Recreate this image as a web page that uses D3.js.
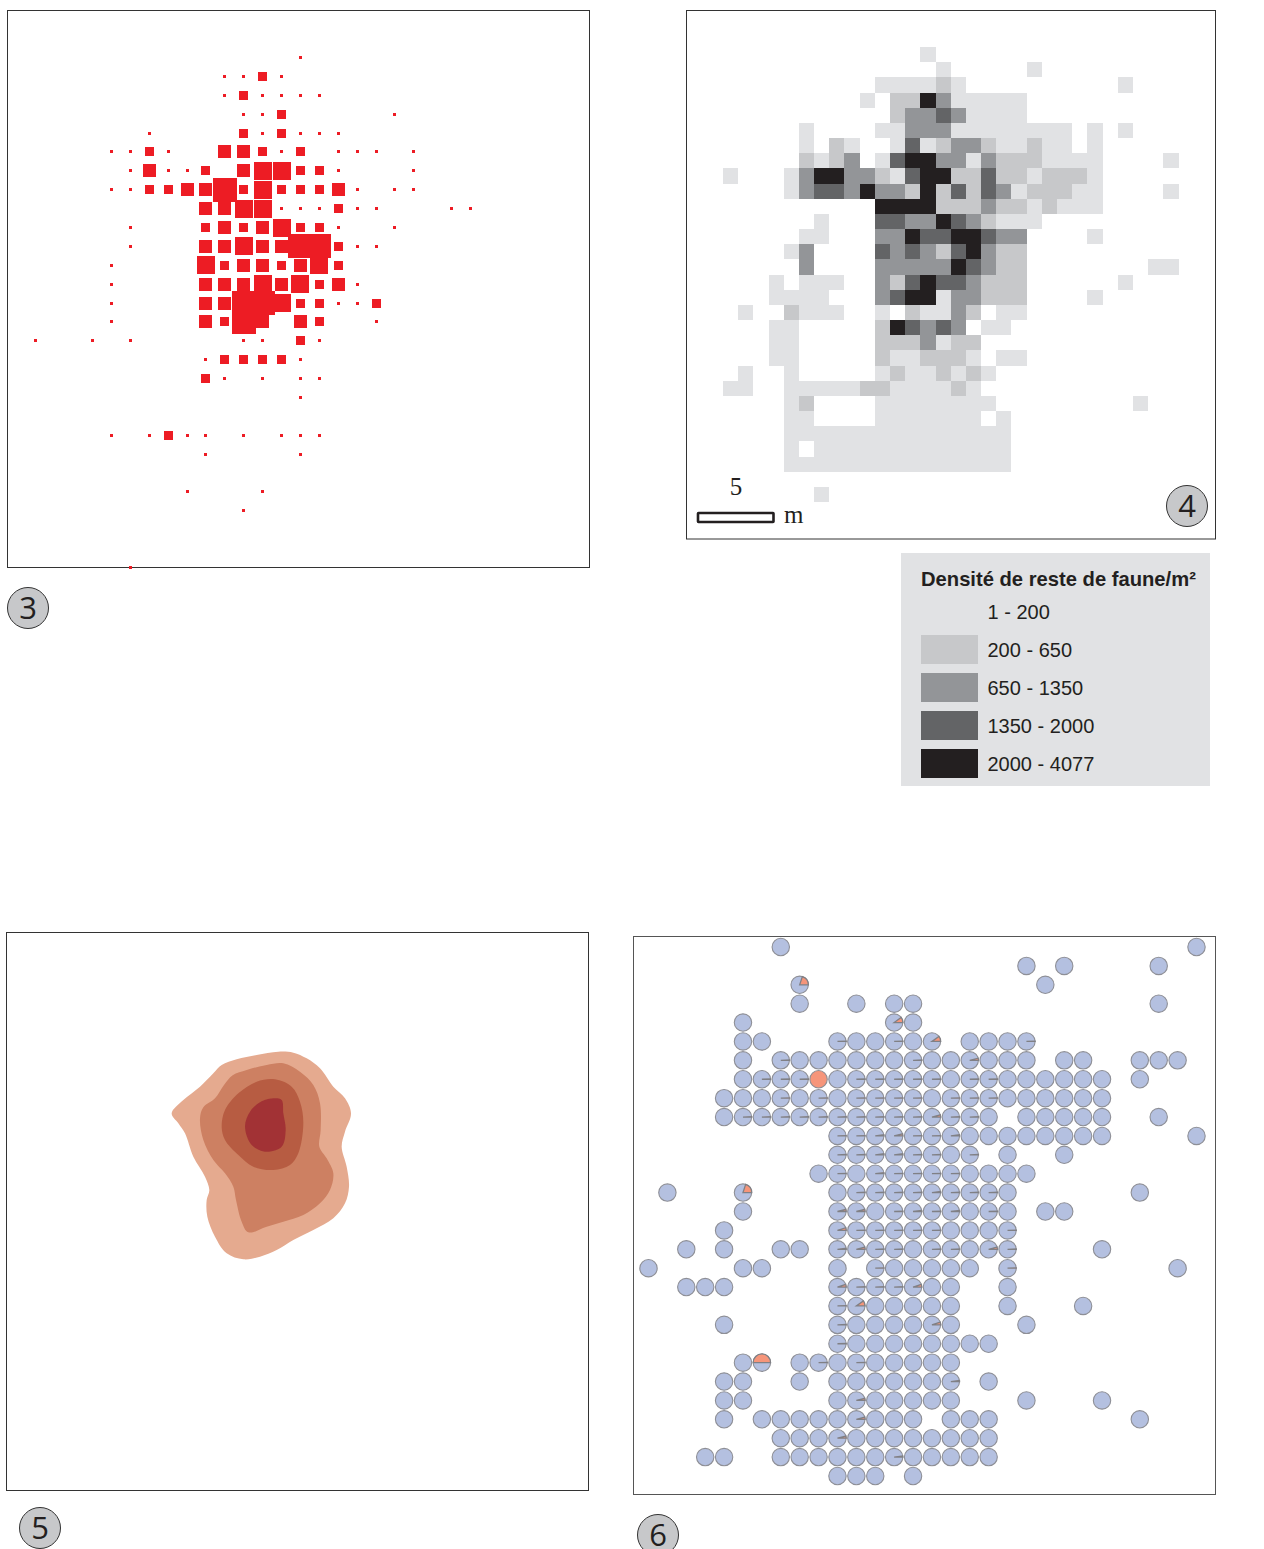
<!DOCTYPE html>
<html><head><meta charset="utf-8">
<script src="https://cdn.jsdelivr.net/npm/d3@7"></script>
<style>html,body{margin:0;padding:0;background:#fff;overflow:hidden}svg{display:block}</style>
</head><body>
<svg id="c" width="1264" height="1549"></svg>
<script>
// Panel 3: [row, [col, class] ...]
const squareRows = [
 [0,[[10,1]]],
 [1,[[6,1],[7,1],[8,2],[9,1]]],
 [2,[[6,1],[7,2],[8,1],[9,1],[10,1],[11,1]]],
 [3,[[7,1],[8,1],[9,2],[15,1]]],
 [4,[[2,1],[7,2],[8,1],[9,2],[10,1],[11,1],[12,1]]],
 [5,[[0,1],[1,1],[2,2],[3,1],[6,3],[7,3],[8,2],[9,1],[10,2],[12,1],[13,1],[14,1],[16,1]]],
 [6,[[1,1],[2,3],[3,1],[4,1],[5,2],[7,3],[8,4],[9,4],[10,2],[11,2],[12,1],[16,1]]],
 [7,[[0,1],[1,1],[2,2],[3,2],[4,3],[5,3],[6,5],[7,2],[8,4],[9,2],[10,2],[11,2],[12,3],[13,1],[15,1],[16,1]]],
 [8,[[5,3],[6,3],[7,4],[8,4],[9,1],[10,1],[11,1],[12,2],[13,1],[14,1],[18,1],[19,1]]],
 [9,[[1,1],[5,2],[6,3],[7,2],[8,3],[9,4],[10,2],[11,2],[12,1],[15,1]]],
 [10,[[1,1],[5,3],[6,3],[7,4],[8,3],[9,3],[10,5],[11,5],[12,2],[13,1],[14,1]]],
 [11,[[0,1],[5,4],[6,2],[7,3],[8,3],[9,2],[10,3],[11,4],[12,2]]],
 [12,[[0,1],[5,3],[6,3],[7,3],[8,4],[9,3],[10,4],[11,2],[12,3],[13,1]]],
 [13,[[0,1],[5,3],[6,3],[7,5],[8,5],[9,4],[10,2],[11,2],[12,1],[13,1],[14,2]]],
 [14,[[0,1],[5,3],[6,2],[7,5],[8,3],[10,3],[11,2],[14,1]]],
 [15,[[-4,1],[-1,1],[1,1],[7,1],[8,1],[10,2],[11,1]]],
 [16,[[5,1],[6,2],[7,2],[8,2],[9,2],[10,1]]],
 [17,[[5,2],[6,1],[8,1],[10,1],[11,1]]],
 [18,[[10,1]]],
 [20,[[0,1],[2,1],[3,2],[4,1],[5,1],[7,1],[9,1],[10,1],[11,1]]],
 [21,[[5,1],[10,1]]],
 [23,[[4,1],[8,1]]],
 [24,[[7,1]]],
 [27,[[1,1]]]
];
const squareClasses = [1,2,3,4,5];

// Panel 4: density class per grid cell, [row, [firstCol, classes] ...]
const densityRows = [
 [0,[[13,"1"]]],
 [1,[[14,"1"],[20,"1"]]],
 [2,[[10,"111121"],[26,"1"]]],
 [3,[[9,"1"],[11,"225311111"]]],
 [4,[[11,"233431111"]]],
 [5,[[5,"1"],[10,"1133311111111"],[24,"1"],[26,"1"]]],
 [6,[[5,"1"],[7,"21"],[11,"141233211211"],[24,"1"]]],
 [7,[[5,"2123"],[10,"145533132221111"],[29,"1"]]],
 [8,[[0,"1"],[4,"135533214552242212221"]]],
 [9,[[4,"134435332524243122211"],[29,"1"]]],
 [10,[[10,"555522232212111"]]],
 [11,[[6,"1"],[10,"44335432111"]]],
 [12,[[5,"11"],[10,"3354455433"],[24,"1"]]],
 [13,[[4,"13"],[10,"4343245322"]]],
 [14,[[5,"3"],[10,"3333354322"],[28,"11"]]],
 [15,[[3,"1"],[5,"111"],[10,"3245443222"],[26,"1"]]],
 [16,[[3,"1111"],[10,"3455133222"],[24,"1"]]],
 [17,[[1,"1"],[4,"2111"],[10,"1"],[12,"21132"],[18,"11"]]],
 [18,[[3,"11"],[10,"254343"],[17,"11"]]],
 [19,[[3,"11"],[10,"2223122"]]],
 [20,[[3,"11"],[10,"2112221"],[18,"11"]]],
 [21,[[1,"1"],[4,"1"],[10,"12112121"]]],
 [22,[[0,"11"],[4,"11111"],[9,"22"],[11,"1111"],[15,"21"]]],
 [23,[[4,"12"],[10,"11111111"],[27,"1"]]],
 [24,[[4,"11"],[10,"1111111"],[18,"1"]]],
 [25,[[4,"111111111111111"]]],
 [26,[[4,"1"],[6,"1111111111111"]]],
 [27,[[4,"111111111111111"]]],
 [29,[[6,"1"]]]
];
const legendTitle = "Densité de reste de faune/m²";
const legendLabels = ["1 - 200","200 - 650","650 - 1350","1350 - 2000","2000 - 4077"];
const greys = ["#e1e2e4","#c7c8ca","#939598","#636466","#231f20"];

// Panel 5: contour outlines, outermost first
const contourOuter = [[65,250],[100,210],[150,170],[190,130],[215,105],[260,88],[320,75],[385,65],[430,68],[470,85],[510,115],[550,170],[585,205],[603,250],[585,305],[575,350],[590,410],[597,470],[585,520],[550,565],[490,600],[430,630],[380,660],[330,680],[280,688],[230,670],[195,620],[172,560],[170,510],[178,480],[165,440],[130,380],[105,310],[85,280]];
const contourSecond = [[150,265],[160,232],[195,205],[222,165],[248,136],[290,120],[350,105],[400,100],[450,125],[490,165],[510,220],[512,300],[508,350],[530,385],[550,430],[540,480],[510,520],[460,555],[400,575],[350,590],[295,607],[275,575],[258,510],[250,470],[225,430],[190,390],[160,330]];
const contourThird = [[215,290],[225,240],[265,190],[320,155],[375,148],[425,170],[450,215],[460,280],[445,370],[420,405],[370,420],[310,410],[265,375],[225,330]];
const contourCore = [[285,290],[300,245],[335,214],[372,205],[395,210],[400,250],[407,300],[395,350],[345,365],[305,345]];
const contourColors = ["#e5aa8f","#cd8062","#b75c42","#a23335"];

// Panel 6: samples [row, cols]; a plain number has share 0, a pair is [col, share of the second material]
const t = 0.006, s = 0.02, m = 0.04;
const sampleRows = [
 [0,[7,29]],
 [1,[20,22,27]],
 [2,[[8,.2],21]],
 [3,[8,11,13,14,27]],
 [4,[5,[13,.1],14]],
 [5,[5,6,[10,t],11,12,[13,t],14,[15,.1],17,18,19,[20,t]]],
 [6,[5,[7,t],8,9,10,11,12,13,[14,t],15,16,[17,m],18,19,20,22,23,26,27,28]],
 [7,[5,[6,t],[7,t],[8,t],[9,1],10,[11,t],[12,t],[13,t],[14,t],[15,t],16,[17,t],[18,t],19,20,21,22,23,24,26]],
 [8,[4,5,6,[7,t],8,[9,t],10,[11,t],[12,t],[13,t],[14,t],15,[16,t],[17,t],[18,t],19,20,21,22,23,24]],
 [9,[4,[5,t],[6,t],[7,t],[8,t],[9,t],[10,t],[11,t],[12,t],[13,t],[14,t],[15,m],[16,t],[17,t],18,20,21,22,23,24,27]],
 [10,[[10,t],[11,t],[12,s],[13,m],[14,t],[15,t],[16,s],17,18,19,20,21,22,23,24,29]],
 [11,[[10,t],[11,t],[12,s],[13,s],[14,t],[15,t],16,[17,t],19,22]],
 [12,[9,[10,t],11,[12,s],[13,t],[14,t],[15,t],[16,t],17,18,19,20]],
 [13,[1,[5,.2],10,[11,t],[12,t],[13,t],[14,t],[15,s],[16,t],[17,t],[18,t],19,26]],
 [14,[5,[10,m],[11,m],12,[13,t],[14,s],[15,t],[16,s],17,[18,t],19,21,22]],
 [15,[4,[10,.05],[11,t],[12,t],[13,t],[14,t],[15,t],16,17,18,[19,t]]],
 [16,[2,4,7,8,[10,s],[11,m],[12,t],[13,t],14,[15,t],[16,t],17,[18,m],[19,t],24]],
 [17,[0,5,6,10,[12,t],13,14,15,16,17,[19,t],28]],
 [18,[2,3,4,[10,.05],[11,t],[12,t],[13,t],[14,.05],15,16,19]],
 [19,[[10,t],[11,.1],12,13,14,15,16,19,23]],
 [20,[4,[10,t],11,12,13,14,[15,.05],16,20]],
 [21,[[10,t],11,12,13,14,15,16,17,18]],
 [22,[5,[6,.5],8,[9,t],10,[11,t],12,13,14,15,16]],
 [23,[4,5,8,10,11,12,13,14,15,[16,s],18]],
 [24,[4,5,10,[11,m],12,13,14,15,16,20,24]],
 [25,[4,6,7,8,9,10,[11,m],12,13,14,16,17,18,26]],
 [26,[7,8,9,[10,m],11,12,13,14,15,16,17,18]],
 [27,[3,4,7,8,9,10,11,12,[13,s],14,15,16,17,18]],
 [28,[10,11,12,14]]
];

const badges = [["3",28,608],["4",1187,506],["5",40,1528],["6",658,1535]];

const svg = d3.select("#c");
const defs = svg.append("defs");
defs.append("filter").attr("id","soft").append("feGaussianBlur").attr("stdDeviation",0.6);
function frame(x,y,w,h,col){
  svg.append("rect").attr("x",x).attr("y",y).attr("width",w).attr("height",h)
     .attr("fill","#fff").attr("stroke",col).attr("stroke-width",1);
}
frame(7.5,10.5,582,557,"#333");
frame(686.5,10.5,529,528.5,"#333");
frame(6.5,932.5,582,558,"#333");
frame(633.5,936.5,582,558,"#555");

// ---- Panel 3
const x3 = d3.scaleLinear().domain([0,19]).range([111.5,470.5]);
const y3 = d3.scaleLinear().domain([0,27]).range([57.5,567.5]);
const size3 = d3.scaleOrdinal().domain(squareClasses).range([3,9,13,18,24]);
const cells3 = squareRows.flatMap(([r,cs])=>cs.map(([c,k])=>({r,c,k})));
svg.append("g").attr("shape-rendering","crispEdges").selectAll("rect").data(cells3).join("rect")
  .attr("x",d=>Math.round(x3(d.c)-size3(d.k)/2))
  .attr("y",d=>Math.round(y3(d.r)-size3(d.k)/2))
  .attr("width",d=>size3(d.k)).attr("height",d=>size3(d.k)).attr("fill","#ed1c24");

// ---- Panel 4
const x4 = d3.scaleLinear().domain([0,30]).range([723,1178.5]);
const y4 = d3.scaleLinear().domain([0,30]).range([47,502]);
const cells4 = densityRows.flatMap(([r,segs])=>segs.flatMap(([c0,str])=>
  Array.from(str).map((ch,i)=>({r,c:c0+i,k:+ch}))));
svg.append("g").attr("shape-rendering","crispEdges").selectAll("rect").data(cells4).join("rect")
  .attr("x",d=>Math.round(x4(d.c))).attr("y",d=>Math.round(y4(d.r)))
  .attr("width",d=>Math.round(x4(d.c+1))-Math.round(x4(d.c)))
  .attr("height",d=>Math.round(y4(d.r+1))-Math.round(y4(d.r)))
  .attr("fill",d=>greys[d.k-1]);

// scale bar
svg.append("rect").attr("x",698).attr("y",513).attr("width",75.5).attr("height",9)
  .attr("fill","#fff").attr("stroke","#231f20").attr("stroke-width",2.6).attr("rx",0.5);
const serif = "'Liberation Serif',serif";
svg.append("text").attr("x",736).attr("y",495).attr("text-anchor","middle").attr("font-family",serif)
  .attr("font-size",25).attr("fill","#231f20").text("5");
svg.append("text").attr("x",784).attr("y",523).attr("font-family",serif)
  .attr("font-size",25).attr("fill","#231f20").text("m");

// ---- Legend
const sans = "'Liberation Sans',Arial,sans-serif";
svg.append("rect").attr("x",901).attr("y",553).attr("width",309).attr("height",233).attr("fill",greys[0]);
svg.append("text").attr("x",921).attr("y",586).attr("font-family",sans).attr("font-weight","bold")
  .attr("font-size",20.2).attr("fill","#231f20").text(legendTitle);
const yLeg = d3.scalePoint().domain(legendLabels).range([612,764]);
const leg = svg.append("g").selectAll("g").data(legendLabels).join("g");
leg.append("rect").attr("x",921).attr("y",d=>yLeg(d)-15).attr("width",57).attr("height",29)
   .attr("fill",(d,i)=>greys[i]);
leg.append("text").attr("x",987.5).attr("y",d=>yLeg(d)+7).attr("font-family",sans).attr("font-size",20)
   .attr("fill","#231f20").text(d=>d);

// ---- Panel 5
const x5 = d3.scaleLinear().domain([0,660]).range([150,370]);
const y5 = d3.scaleLinear().domain([0,720]).range([1030,1270]);
const contourLine = d3.line().x(d=>x5(d[0])).y(d=>y5(d[1])).curve(d3.curveCatmullRomClosed.alpha(0.5));
svg.append("g").attr("filter","url(#soft)").selectAll("path").data([contourOuter,contourSecond,contourThird,contourCore]).join("path")
  .attr("d",contourLine).attr("fill",(d,i)=>contourColors[i]);

// ---- Panel 6
const x6 = d3.scaleLinear().domain([0,29]).range([648.5,1196.5]);
const y6 = d3.scaleLinear().domain([0,28]).range([947,1476]);
const samples = sampleRows.flatMap(([r,cs])=>cs.map(v=>Array.isArray(v)?{r,c:v[0],share:v[1]}:{r,c:v,share:0}));
const R6 = 8.7;
const arc6 = d3.arc().innerRadius(0).outerRadius(R6);
const g6 = svg.append("g").selectAll("g").data(samples).join("g")
  .attr("transform",d=>`translate(${x6(d.c)},${y6(d.r)})`);
g6.append("circle").attr("r",R6).attr("fill",d=>d.share>=1?"#f6957a":"#b4c0e0")
  .attr("stroke","#8e8f96").attr("stroke-width",1.1);
g6.filter(d=>d.share>0&&d.share<1).append("path")
  .attr("d",d=>arc6({startAngle:Math.PI/2-2*Math.PI*d.share,endAngle:Math.PI/2}))
  .attr("fill","#f6957a").attr("stroke","#808085").attr("stroke-width",1.3);

// ---- Badges
const badge = svg.append("g").selectAll("g").data(badges).join("g")
  .attr("transform",d=>`translate(${d[1]},${d[2]})`);
badge.append("circle").attr("r",20.5).attr("fill","#c7c8ca").attr("stroke","#333").attr("stroke-width",1);
badge.append("text").attr("text-anchor","middle").attr("y",11).attr("font-family","'Open Sans',sans-serif")
  .attr("font-size",31).attr("fill","#231f20").text(d=>d[0]);
</script>
</body></html>
